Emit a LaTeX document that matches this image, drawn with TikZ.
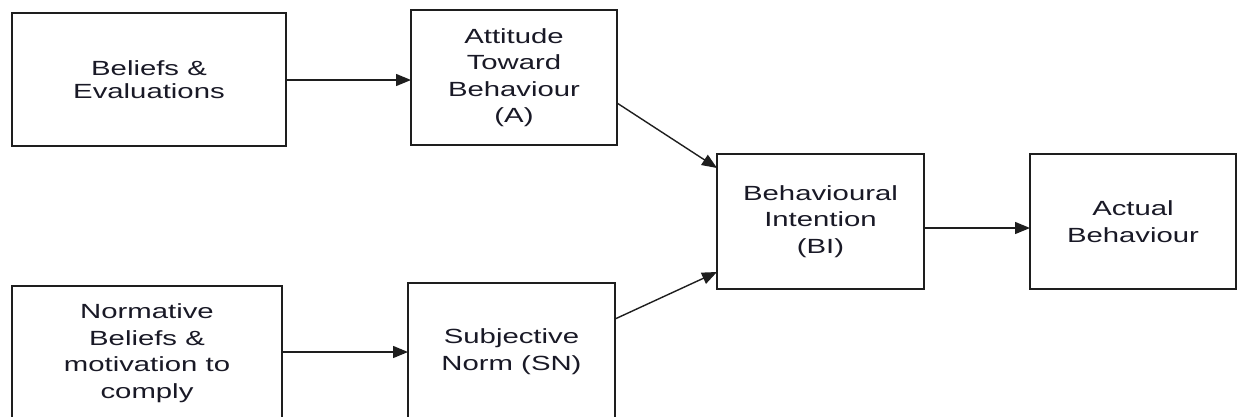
\documentclass[tikz,border=0pt]{standalone}
\usepackage{fontspec}
\usetikzlibrary{arrows.meta}
\newfontfamily\boxfont[FakeStretch=1.43]{Liberation Sans}
\definecolor{edge}{RGB}{30,30,30}
\definecolor{ink}{RGB}{25,25,38}
\tikzset{
  box/.style={draw=edge, line width=1.4pt, fill=white, inner sep=0pt, outer sep=0pt,
    align=center, text=ink, font=\boxfont\fontsize{20.5}{26.5}\selectfont},
  link/.style={draw=edge, line width=1.4pt, -{Triangle[length=15pt,width=12pt]}}
}
\begin{document}
\begin{tikzpicture}[x=1pt,y=-1pt]
  \useasboundingbox (0,0) rectangle (1238,416);
  \clip (0,0) rectangle (1238,416);
  \fill[white] (0,0) rectangle (1238,416);

  % boxes
  \node[box, minimum width=274, minimum height=133,
        font=\boxfont\fontsize{20.5}{23.5}\selectfont] (bel) at (149,79.5)
        {Beliefs \&\\Evaluations};
  \node[box, minimum width=206, minimum height=135] (att) at (514,77.5)
        {Attitude\\Toward\\Behaviour\\(A)};
  \node[box, minimum width=207, minimum height=135] (bi) at (820.5,221.5)
        {Behavioural\\Intention\\(BI)};
  \node[box, minimum width=206, minimum height=135] (act) at (1133,221.5)
        {Actual\\Behaviour};
  \node[box, minimum width=270, minimum height=134] (nor) at (147,353)
        {Normative\\Beliefs \&\\motivation to\\comply};
  \node[box, minimum width=207, minimum height=137] (sn) at (511.5,351.5)
        {Subjective\\Norm (SN)};

  % connectors
  \draw[link] (bel.east |- 0,80)  -- (att.west |- 0,80);
  \draw[link] (att.east |- 0,103) -- (bi.west |- 0,168);
  \draw[link] (nor.east |- 0,352) -- (sn.west |- 0,352);
  \draw[link] (sn.east |- 0,319)  -- (bi.west |- 0,272);
  \draw[link] (bi.east |- 0,228)  -- (act.west |- 0,228);
\end{tikzpicture}
\end{document}
